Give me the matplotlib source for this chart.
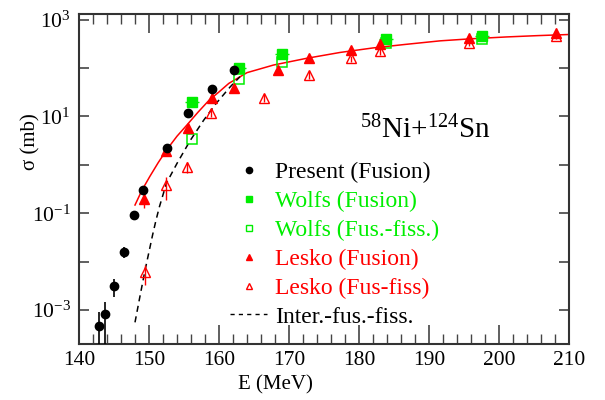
import matplotlib
matplotlib.use('Agg')
import numpy as np
import matplotlib.pyplot as plt
from matplotlib.lines import Line2D

plt.rcParams['font.family'] = ['Liberation Serif', 'DejaVu Serif']
plt.rcParams['mathtext.fontset'] = 'custom'
plt.rcParams['mathtext.rm'] = 'Liberation Serif'
plt.rcParams['mathtext.it'] = 'Liberation Serif:italic'

GREEN = '#00ee00'
RED = '#ff0000'

# Present (Fusion)
present_E = [142.9, 143.7, 145.05, 146.4, 147.8, 149.1, 152.5, 155.5, 159.0, 162.2]
present_sig = [4.6e-4, 8.3e-4, 3.1e-3, 1.6e-2, 0.092, 0.30, 2.2, 12.0, 36.0, 90.0]
present_lo = [1e-4, 1e-4, 1.9e-3, 1.2e-2, 0.092, 0.30, 2.2, 12.0, 36.0, 90.0]
present_hi = [9.3e-4, 1.5e-3, 4.4e-3, 2.0e-2, 0.092, 0.30, 2.2, 12.0, 36.0, 90.0]

# Wolfs
wolfs_E = [156.2, 162.8, 169.0, 183.9, 197.5]
wolfs_fus = [20.0, 98.0, 190.0, 400.0, 460.0]
wolfs_ff = [3.4, 58.0, 134.0, 320.0, 387.0]

# Lesko (Fusion)
lesko_E = [149.3, 152.4, 155.5, 158.95, 162.1, 168.4, 172.8, 178.9, 183.0, 195.7, 208.2]
lesko_fus = [0.20, 1.9, 5.7, 24.5, 38.0, 90.0, 157.0, 240.0, 310.0, 407.0, 525.0]
lesko_fus_err = [0.35, 0.2, 0.2, 0.2, 0.2, 0.15, 0.15, 0.12, 0.12, 0.12, 0.12]

# Lesko (Fus-fiss)
lesko_ff_E = [149.4, 152.4, 155.4, 158.8, 166.4, 172.8, 178.9, 183.0, 195.7, 208.2]
lesko_ff = [6.0e-3, 0.38, 0.90, 12.0, 24.5, 73.0, 157.0, 222.0, 330.0, 453.0]
lesko_ff_err = [0.45, 0.5, 0.25, 0.2, 0.2, 0.2, 0.15, 0.15, 0.12, 0.12]

# fit curve (red) and inter.-fus.-fiss. (dashed)
fit_E = [148.0, 149.0, 150.1, 151.3, 152.5, 154.0, 155.4, 157.0, 158.6, 160.0, 161.4, 164.0,
         167.8, 172.4, 177.3, 182.0, 186.5, 191.6, 196.0, 201.1, 205.5, 209.9]
fit_sig = [0.148, 0.30, 0.57, 1.10, 2.02, 3.9, 6.6, 12.2, 21.7, 32.0, 48.0, 80.0,
           115.0, 157.0, 209.0, 259.0, 305.0, 363.0, 400.0, 437.0, 465.0, 490.0]
iff_E = [148.0, 148.7, 149.4, 150.0, 150.5, 151.0, 151.5, 152.5, 154.0, 155.9, 157.8, 159.6, 161.6, 163.0]
iff_sig = [5.6e-4, 1.9e-3, 6.3e-3, 1.6e-2, 3.5e-2, 7.2e-2, 0.138, 0.42, 1.07, 3.2, 8.3, 18.6, 40.7, 66.0]

fig = plt.figure(figsize=(6.05, 4.0), dpi=100)
ax = fig.add_axes([79 / 605, 1 - 344 / 400, 490 / 605, 330 / 400])

ax.plot(fit_E, fit_sig, '-', color=RED, lw=1.1, zorder=2)
ax.plot(iff_E, iff_sig, '--', color='black', lw=1.1, dashes=(4, 3), zorder=2)

p_err = [np.array(present_sig) - np.array(present_lo), np.array(present_hi) - np.array(present_sig)]
ax.errorbar(present_E, present_sig, yerr=p_err, fmt='o', color='black', ms=6, elinewidth=1.2,
            capsize=0, zorder=5)

ax.errorbar(wolfs_E, wolfs_fus, xerr=1.0, fmt='s', color=GREEN, ms=6.5, elinewidth=1.0,
            capsize=0, zorder=4)
ax.plot(wolfs_E, wolfs_ff, 's', mfc='none', mec=GREEN, ms=6.5, mew=1.1, zorder=4)

lf = np.array(lesko_fus)
ax.errorbar(lesko_E, lesko_fus, yerr=lf * np.array(lesko_fus_err), fmt='^', color=RED, ms=7,
            elinewidth=1.0, capsize=0, zorder=4)
lff = np.array(lesko_ff)
ax.errorbar(lesko_ff_E, lesko_ff, yerr=lff * np.array(lesko_ff_err), fmt='^', color=RED, mfc='none',
            mec=RED, ms=7, mew=1.0, elinewidth=1.0, capsize=0, zorder=4)

ax.set_yscale('log')
ax.set_xlim(140, 210)
ax.set_ylim(2e-4, 1.3e3)

ax.set_xticks(np.arange(140, 211, 10))
ax.set_xticks(np.arange(140, 211, 2), minor=True)
ytk = [1e-3, 1e-2, 1e-1, 1e0, 1e1, 1e2, 1e3]
ax.set_yticks(ytk)
ax.set_yticklabels(['$10^{-3}$', '', '$10^{-1}$', '', '$10^{1}$', '', '$10^{3}$'])
ax.yaxis.set_minor_locator(matplotlib.ticker.NullLocator())
ax.tick_params(axis='x', which='major', direction='in', length=14, width=1.2, top=True,
               labelsize=15.5, pad=5, color='#444444')
ax.tick_params(axis='x', which='minor', direction='in', length=7, width=1.0, top=True,
               color='#444444')
ax.tick_params(axis='y', which='major', direction='in', length=7, width=1.2, right=True,
               labelsize=15.5, pad=6, color='#444444')
for s in ax.spines.values():
    s.set_linewidth(1.5)
    s.set_color('#333333')

ax.set_xlabel('E (MeV)', fontsize=15)
ax.xaxis.set_label_coords(0.40, -0.124, transform=ax.transAxes)
ax.xaxis.label.set_va('center')
ax.set_ylabel('σ (mb)', fontsize=15)
ax.yaxis.set_label_coords(-0.099, 0.612, transform=ax.transAxes)
ax.yaxis.label.set_va('center')

ax.text(0.706, 0.648, r'$^{58}$Ni+$^{124}$Sn', transform=ax.transAxes, fontsize=21,
        ha='center', va='center')

handles = [
    Line2D([], [], marker='o', ls='none', color='black', ms=4.5),
    Line2D([], [], marker='s', ls='none', color=GREEN, ms=4.5),
    Line2D([], [], marker='s', ls='none', mfc='none', mec=GREEN, ms=4.5, mew=1.0),
    Line2D([], [], marker='^', ls='none', color=RED, ms=5),
    Line2D([], [], marker='^', ls='none', mfc='none', mec=RED, ms=5, mew=1.0),
    Line2D([], [], ls='--', color='black', lw=1.0, dashes=(3, 3)),
]
labels = ['Present (Fusion)', 'Wolfs (Fusion)', 'Wolfs (Fus.-fiss.)', 'Lesko (Fusion)',
          'Lesko (Fus-fiss)', 'Inter.-fus.-fiss.']
fig.legend(handles, labels, loc='upper left', bbox_to_anchor=(230 / 605, 1 - 162 / 400),
           frameon=False, fontsize=17, handlelength=1.57, handletextpad=0.34,
           labelspacing=0.31, borderpad=0, borderaxespad=0,
           labelcolor=['black', GREEN, GREEN, RED, RED, 'black'])

fig.savefig('out.png', dpi=100)
